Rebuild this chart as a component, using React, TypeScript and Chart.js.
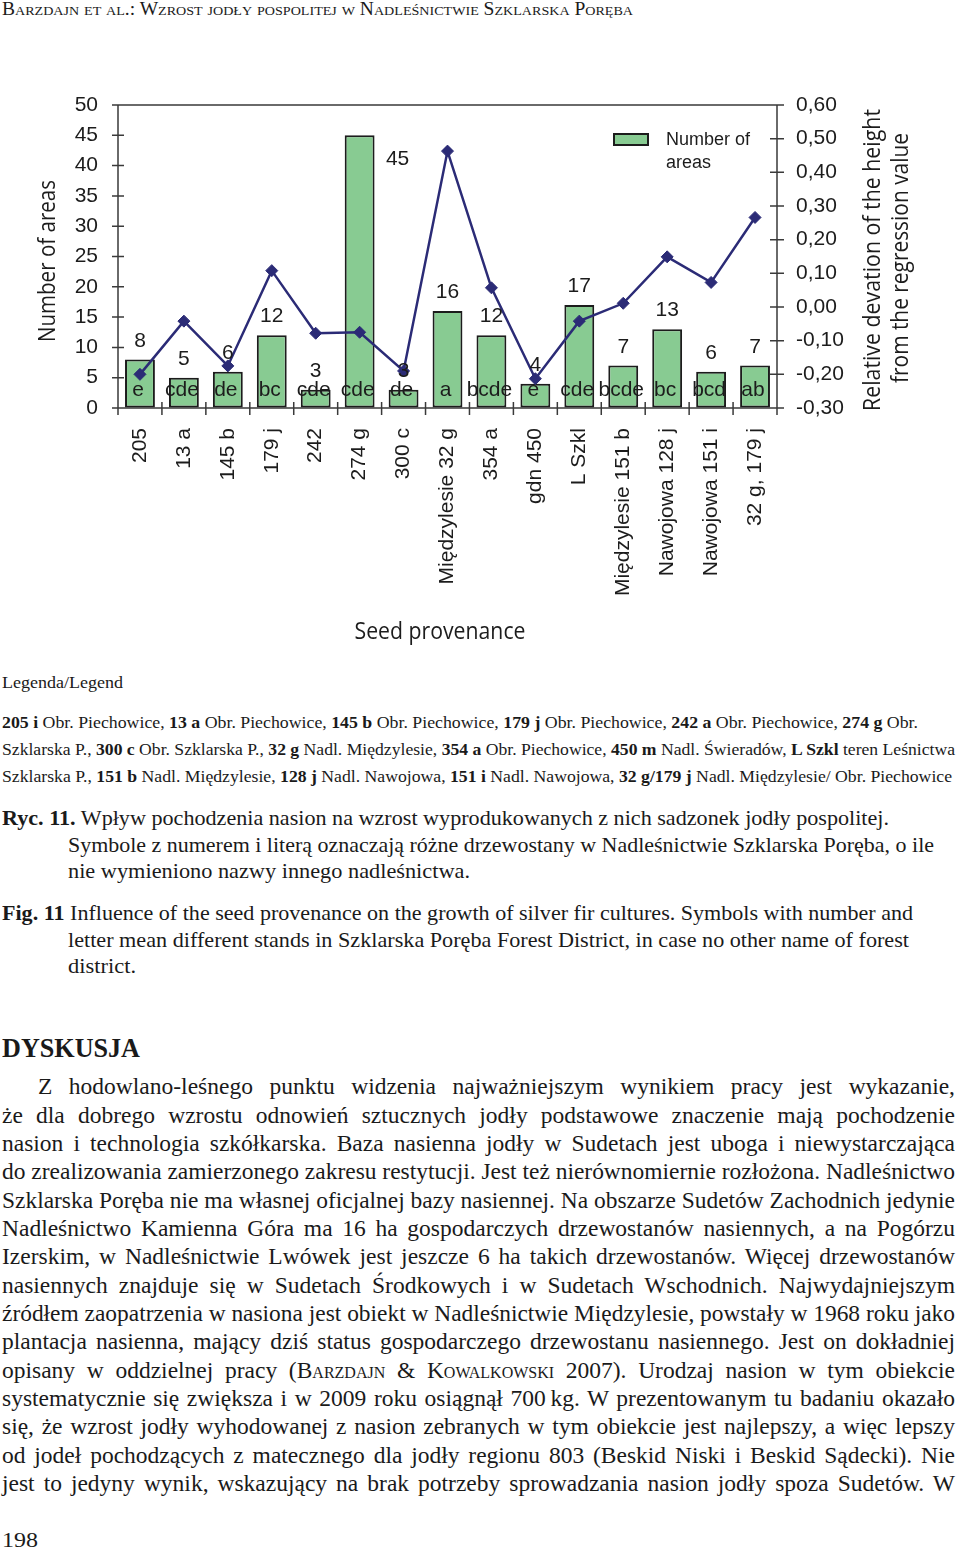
import React, { useEffect, useLayoutEffect, useRef, useState } from 'react';
import { Chart, registerables } from 'chart.js';
Chart.register(...registerables);

// ---------- chart data ----------
const categories = ['205', '13 a', '145 b', '179 j', '242', '274 g', '300 c', 'Międzylesie 32 g', '354 a', 'gdn 450', 'L Szkl', 'Międzylesie 151 b', 'Nawojowa 128 j', 'Nawojowa 151 i', '32 g, 179 j'];
const areaCounts = [8, 5, 6, 12, 3, 45, 3, 16, 12, 4, 17, 7, 13, 6, 7];
const relativeDeviation = [-0.2, -0.042, -0.175, 0.108, -0.078, -0.075, -0.19, 0.463, 0.057, -0.213, -0.042, 0.011, 0.149, 0.073, 0.266];
const groupLetters = ['e', 'cde', 'de', 'bc', 'cde', 'cde', 'de', 'a', 'bcde', 'e', 'cde', 'bcde', 'bc', 'bcd', 'ab'];
const leftAxisTitle = 'Number of areas';
const rightAxisTitle = ['Relative devation of the height', 'from the regression value'];
const xAxisTitle = 'Seed provenance';
const legendLabel = ['Number of', 'areas'];

const GREEN = 'rgb(136,203,146)';
const NAVY = '#2b2b76';
const INK = '#1c1c1c';
const SANS = '"Liberation Sans", Arial, sans-serif';
const TITLE = '"Open Sans", "Noto Sans", sans-serif';

function fitText(ctx: CanvasRenderingContext2D, text: string, cx: number, cy: number, len: number, rot: number, font: string) {
  ctx.save();
  ctx.translate(cx, cy);
  ctx.rotate(rot);
  ctx.font = font;
  const w = ctx.measureText(text).width;
  ctx.scale(len / w, 1);
  ctx.textAlign = 'center';
  ctx.textBaseline = 'middle';
  ctx.fillStyle = INK;
  ctx.fillText(text, 0, 0);
  ctx.restore();
}

const overlayPlugin = {
  id: 'overlay',
  beforeDatasetsDraw(chart: any) {
    const ctx: CanvasRenderingContext2D = chart.ctx;
    const { left, right, top, bottom } = chart.chartArea;
    ctx.save();
    ctx.strokeStyle = '#3a3a3a';
    ctx.lineWidth = 1.5;
    ctx.beginPath();
    ctx.moveTo(left - 6, top); ctx.lineTo(right + 7, top);
    ctx.moveTo(left - 6, bottom); ctx.lineTo(right + 7, bottom);
    ctx.moveTo(left, top); ctx.lineTo(left, bottom);
    ctx.moveTo(right, top); ctx.lineTo(right, bottom + 7);
    const yL = chart.scales.y;
    yL.ticks.forEach((t: any) => {
      const py = yL.getPixelForValue(t.value);
      ctx.moveTo(left - 6, py); ctx.lineTo(left + 6, py);
    });
    const yR = chart.scales.y1;
    yR.ticks.forEach((t: any) => {
      const py = yR.getPixelForValue(t.value);
      ctx.moveTo(right - 7, py); ctx.lineTo(right + 7, py);
    });
    const n = categories.length;
    for (let i = 0; i <= n; i++) {
      const px = left + ((right - left) * i) / n;
      ctx.moveTo(px, bottom - 6); ctx.lineTo(px, bottom + 7);
    }
    ctx.stroke();
    ctx.restore();
  },
  afterDatasetsDraw(chart: any) {
    const ctx: CanvasRenderingContext2D = chart.ctx;
    const { top, bottom, right } = chart.chartArea;
    const meta = chart.getDatasetMeta(0);
    ctx.save();
    ctx.font = `21px ${SANS}`;
    ctx.fillStyle = INK;
    ctx.textAlign = 'center';
    ctx.textBaseline = 'alphabetic';
    meta.data.forEach((bar: any, i: number) => {
      ctx.fillText(groupLetters[i], bar.x - 2, bottom - 12.5);
      const label = String(areaCounts[i]);
      let lx = bar.x;
      let ly = bar.y - 13;
      if (ly - 16 < top + 15) {
        lx = bar.x + bar.width / 2 + 23;
        ly = bar.y + 29.5;
      }
      ctx.fillText(label, lx, ly);
    });
    // legend
    const lx = right - 163;
    const ly = top + 29;
    ctx.fillStyle = GREEN;
    ctx.fillRect(lx, ly, 34, 11);
    ctx.strokeStyle = INK;
    ctx.lineWidth = 2;
    ctx.strokeRect(lx, ly, 34, 11);
    ctx.fillStyle = INK;
    ctx.font = `18px ${SANS}`;
    ctx.textAlign = 'left';
    ctx.textBaseline = 'middle';
    ctx.fillText(legendLabel[0], lx + 52, ly + 6);
    ctx.fillText(legendLabel[1], lx + 52, ly + 29);
    ctx.restore();
    // titles
    const tf = `24px ${TITLE}`;
    fitText(ctx, leftAxisTitle, 48, 171, 162, -Math.PI / 2, tf);
    fitText(ctx, rightAxisTitle[0], 873, 170, 302, -Math.PI / 2, tf);
    fitText(ctx, rightAxisTitle[1], 901, 168, 250, -Math.PI / 2, tf);
    fitText(ctx, xAxisTitle, 440, 542, 171, 0, tf);
  },
};

// ---------- page text ----------
type Seg = [string, ('b' | 'sc')?];
interface TLine { x: number; cy: number; w: number; size: number; segs: Seg[]; justify?: boolean; bold?: boolean; sc?: boolean }

const headerLine: TLine = { x: 2, cy: 8.5, w: 631, size: 18, sc: true, segs: [['Barzdajn et al.: Wzrost jodły pospolitej w Nadleśnictwie Szklarska Poręba']] };

const legendTitle: TLine = { x: 2, cy: 682, w: 121, size: 17, segs: [['Legenda/Legend']] };

const legendLines: TLine[] = [
  { x: 2, cy: 723, w: 916, size: 16.5, segs: [['205 i', 'b'], [' Obr. Piechowice, '], ['13 a', 'b'], [' Obr. Piechowice, '], ['145 b', 'b'], [' Obr. Piechowice, '], ['179 j', 'b'], [' Obr. Piechowice, '], ['242 a', 'b'], [' Obr. Piechowice, '], ['274 g', 'b'], [' Obr.']] },
  { x: 2, cy: 750, w: 953, size: 16.5, segs: [['Szklarska P., '], ['300 c', 'b'], [' Obr. Szklarska P., '], ['32 g', 'b'], [' Nadl. Międzylesie, '], ['354 a', 'b'], [' Obr. Piechowice, '], ['450 m', 'b'], [' Nadl. Świeradów, '], ['L Szkl', 'b'], [' teren Leśnictwa']] },
  { x: 2, cy: 777, w: 950, size: 16.5, segs: [['Szklarska P., '], ['151 b', 'b'], [' Nadl. Międzylesie, '], ['128 j', 'b'], [' Nadl. Nawojowa, '], ['151 i', 'b'], [' Nadl. Nawojowa, '], ['32 g/179 j', 'b'], [' Nadl. Międzylesie/ Obr. Piechowice']] },
];

const captionLines: TLine[] = [
  { x: 2, cy: 818, w: 887, size: 22, segs: [['Ryc. 11.', 'b'], [' Wpływ pochodzenia nasion na wzrost wyprodukowanych z nich sadzonek jodły pospolitej.']] },
  { x: 68, cy: 845, w: 866, size: 22, segs: [['Symbole z numerem i literą oznaczają różne drzewostany w Nadleśnictwie Szklarska Poręba, o ile']] },
  { x: 68, cy: 871, w: 402, size: 22, segs: [['nie wymieniono nazwy innego nadleśnictwa.']] },
  { x: 2, cy: 913, w: 911, size: 22, segs: [['Fig. 11', 'b'], [' Influence of the seed provenance on the growth of silver fir cultures. Symbols with number and']] },
  { x: 68, cy: 940, w: 841, size: 22, segs: [['letter mean different stands in Szklarska Poręba Forest District, in case no other name of forest']] },
  { x: 68, cy: 966, w: 68, size: 22, segs: [['district.']] },
];

const headingLine: TLine = { x: 2, cy: 1048, w: 138, size: 28, bold: true, segs: [['DYSKUSJA']] };

const bodyTexts: Seg[][] = [
  [['Z hodowlano-leśnego punktu widzenia najważniejszym wynikiem pracy jest wykazanie,']],
  [['że dla dobrego wzrostu odnowień sztucznych jodły podstawowe znaczenie mają pochodzenie']],
  [['nasion i technologia szkółkarska. Baza nasienna jodły w Sudetach jest uboga i niewystarczająca']],
  [['do zrealizowania zamierzonego zakresu restytucji. Jest też nierównomiernie rozłożona. Nadleśnictwo']],
  [['Szklarska Poręba nie ma własnej oficjalnej bazy nasiennej. Na obszarze Sudetów Zachodnich jedynie']],
  [['Nadleśnictwo Kamienna Góra ma 16 ha gospodarczych drzewostanów nasiennych, a na Pogórzu']],
  [['Izerskim, w Nadleśnictwie Lwówek jest jeszcze 6 ha takich drzewostanów. Więcej drzewostanów']],
  [['nasiennych znajduje się w Sudetach Środkowych i w Sudetach Wschodnich. Najwydajniejszym']],
  [['źródłem zaopatrzenia w nasiona jest obiekt w Nadleśnictwie Międzylesie, powstały w 1968 roku jako']],
  [['plantacja nasienna, mający dziś status gospodarczego drzewostanu nasiennego. Jest on dokładniej']],
  [['opisany w oddzielnej pracy ('], ['Barzdajn', 'sc'], [' & '], ['Kowalkowski', 'sc'], [' 2007). Urodzaj nasion w tym obiekcie']],
  [['systematycznie się zwiększa i w 2009 roku osiągnął 700\u2009kg. W prezentowanym tu badaniu okazało']],
  [['się, że wzrost jodły wyhodowanej z nasion zebranych w tym obiekcie jest najlepszy, a więc lepszy']],
  [['od jodeł pochodzących z matecznego dla jodły regionu 803 (Beskid Niski i Beskid Sądecki). Nie']],
  [['jest to jedyny wynik, wskazujący na brak potrzeby sprowadzania nasion jodły spoza Sudetów. W']],
];

const bodyLines: TLine[] = bodyTexts.map((segs, i) => ({
  x: i === 0 ? 38 : 2,
  cy: 1087 + i * 28.35,
  w: i === 0 ? 917 : 953,
  size: 23.5,
  justify: true,
  segs,
}));

const pageNumber: TLine = { x: 2, cy: 1540, w: 36, size: 21, segs: [['198']] };

function FitLine({ line }: { line: TLine }) {
  const ref = useRef<HTMLDivElement>(null);
  const [mode, setMode] = useState<{ m: string; s: number }>({ m: 'measure', s: 1 });
  useLayoutEffect(() => {
    const el = ref.current;
    if (!el) return;
    const nat = el.getBoundingClientRect().width;
    if (line.justify && nat <= line.w - 1) setMode({ m: 'justify', s: 1 });
    else setMode({ m: 'scale', s: line.w / nat });
  }, []);
  const base: React.CSSProperties = {
    position: 'absolute',
    left: line.x,
    top: line.cy - line.size / 2,
    fontSize: line.size,
    lineHeight: `${line.size}px`,
    height: line.size,
    fontFamily: '"Liberation Serif", "Times New Roman", serif',
    fontWeight: line.bold ? 700 : 400,
    fontVariant: line.sc ? 'small-caps' : 'normal',
    color: '#1a1a1a',
  };
  const content = line.segs.map((s, i) =>
    s[1] === 'b' ? <b key={i}>{s[0]}</b> : s[1] === 'sc' ? <span key={i} style={{ fontVariant: 'small-caps' }}>{s[0]}</span> : <span key={i}>{s[0]}</span>
  );
  if (mode.m === 'justify') {
    return <div style={{ ...base, width: line.w, whiteSpace: 'normal', textAlign: 'justify', textAlignLast: 'justify' }}>{content}</div>;
  }
  return (
    <div ref={ref} style={{ ...base, whiteSpace: 'nowrap', display: 'inline-block', transform: `scaleX(${mode.s})`, transformOrigin: '0 0' }}>
      {content}
    </div>
  );
}

const hiddenGrid = (len: number) => ({ display: true, color: 'rgba(0,0,0,0)', drawOnChartArea: false, drawTicks: true, tickLength: len });

export default function App() {
  const canvasRef = useRef<HTMLCanvasElement>(null);
  useEffect(() => {
    const chart = new Chart(canvasRef.current as HTMLCanvasElement, {
      type: 'bar',
      data: {
        labels: categories,
        datasets: [
          {
            type: 'bar',
            label: 'Number of areas',
            data: areaCounts,
            yAxisID: 'y',
            backgroundColor: GREEN,
            borderColor: INK,
            borderWidth: 2,
            borderSkipped: false,
            barPercentage: 0.68,
            categoryPercentage: 1,
            order: 1,
          } as any,
          {
            type: 'line',
            label: 'Relative deviation',
            data: relativeDeviation,
            yAxisID: 'y1',
            borderColor: NAVY,
            backgroundColor: NAVY,
            borderWidth: 2.5,
            pointStyle: 'rectRot',
            pointRadius: 6,
            pointBorderWidth: 1,
            pointBackgroundColor: NAVY,
            pointBorderColor: NAVY,
            tension: 0,
            order: 0,
          } as any,
        ],
      },
      options: {
        responsive: false,
        maintainAspectRatio: false,
        animation: false,
        devicePixelRatio: 1,
        layout: { padding: { top: 15, left: 0, right: 0, bottom: 0 } },
        plugins: { legend: { display: false }, tooltip: { enabled: false }, title: { display: false } },
        scales: {
          x: {
            type: 'category',
            offset: true,
            grid: { display: false, drawTicks: false },
            border: { display: false },
            ticks: { autoSkip: false, minRotation: 90, maxRotation: 90, padding: 20, color: INK, font: { family: SANS, size: 21 } },
            afterFit: (s: any) => { s.height = 242; },
          },
          y: {
            position: 'left',
            min: 0,
            max: 50,
            grid: hiddenGrid(20),
            border: { display: false },
            ticks: { stepSize: 5, padding: 0, color: INK, font: { family: SANS, size: 21 } },
            afterFit: (s: any) => { s.width = 118; },
          },
          y1: {
            position: 'right',
            min: -0.3,
            max: 0.6,
            grid: hiddenGrid(19),
            border: { display: false },
            ticks: {
              stepSize: 0.1,
              padding: 0,
              color: INK,
              font: { family: SANS, size: 21 },
              callback: (v: any) => {
                const r = Math.round(Number(v) * 100) / 100;
                const s = (Object.is(r, -0) ? 0 : r).toFixed(2).replace('.', ',');
                return s === '-0,00' ? '0,00' : s;
              },
            },
            afterFit: (s: any) => { s.width = 183; },
          },
        },
      } as any,
      plugins: [overlayPlugin],
    });
    return () => chart.destroy();
  }, []);

  return (
    <div style={{ position: 'absolute', left: 0, top: 0, width: 960, height: 1551, background: '#fff', overflow: 'hidden' }}>
      <FitLine line={headerLine} />
      <div style={{ position: 'absolute', left: 0, top: 90, width: 960, height: 560 }}>
        <canvas ref={canvasRef} width={960} height={560} style={{ display: 'block', width: 960, height: 560 }} />
      </div>
      <FitLine line={legendTitle} />
      {legendLines.map((l, i) => <FitLine key={'l' + i} line={l} />)}
      {captionLines.map((l, i) => <FitLine key={'c' + i} line={l} />)}
      <FitLine line={headingLine} />
      {bodyLines.map((l, i) => <FitLine key={'b' + i} line={l} />)}
      <FitLine line={pageNumber} />
    </div>
  );
}
